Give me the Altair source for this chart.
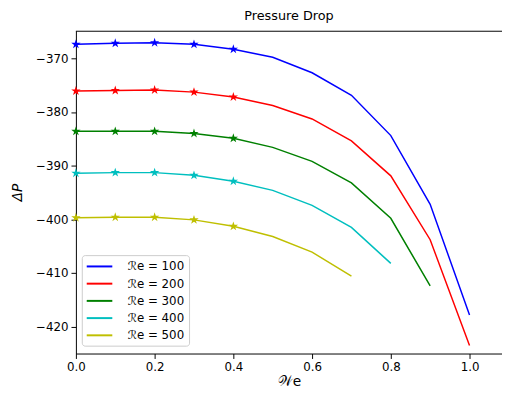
import altair as alt
import pandas as pd

we = [0.0, 0.1, 0.2, 0.3, 0.4, 0.5, 0.6, 0.7, 0.8, 0.9, 1.0]
re_values = [100, 200, 300, 400, 500]
dp_re100 = [-367.4, -367.2, -367.1, -367.4, -368.3, -369.8, -372.7, -376.9, -384.4, -397.2, -417.8]
dp_re200 = [-376.1, -376.0, -375.9, -376.3, -377.2, -378.8, -381.3, -385.4, -391.9, -403.8, -423.5]
dp_re300 = [-383.6, -383.6, -383.6, -384.0, -384.9, -386.6, -389.2, -393.2, -399.8, -412.4]
dp_re400 = [-391.4, -391.3, -391.3, -391.8, -392.9, -394.6, -397.4, -401.5, -408.2]
dp_re500 = [-399.7, -399.6, -399.6, -400.1, -401.3, -403.2, -406.1, -410.6]
colors = ["#0000ff", "#ff0000", "#008000", "#00bfbf", "#bfbf00"]
marker_max_we = 0.4

series = [dp_re100, dp_re200, dp_re300, dp_re400, dp_re500]
labels = [f"ℛe = {r}" for r in re_values]
rows = []
for lab, vals in zip(labels, series):
    for w, v in zip(we, vals):
        rows.append({"series": lab, "We": w, "dP": v, "marker": 1 if w <= marker_max_we + 1e-9 else 0})
df = pd.DataFrame(rows)

W, H = 433, 328
font = "DejaVu Sans"

STAR = ("M0,-1L0.2245,-0.309L0.951,-0.309L0.3633,0.118L0.5878,0.809L0,0.382"
        "L-0.5878,0.809L-0.3633,0.118L-0.951,-0.309L-0.2245,-0.309Z")
LEGEND_LINE = "M-2,0L2,0"

xscale = alt.Scale(domain=[0, 1.0825], nice=False, zero=False)
yscale = alt.Scale(domain=[-425.0, -364.87], nice=False, zero=False)
cscale = alt.Scale(domain=labels, range=colors)

x = alt.X("We:Q", scale=xscale,
          axis=alt.Axis(values=[0, 0.2, 0.4, 0.6, 0.8, 1.0], format=".1f", title="𝒲e",
                        grid=False, titleFontSize=14, titleFontWeight="normal",
                        titlePadding=2, labelFlush=False))
y = alt.Y("dP:Q", scale=yscale,
          axis=alt.Axis(values=[-370, -380, -390, -400, -410, -420], format="d", title="ΔP",
                        grid=False, labelExpr="replace(datum.label, '-', '−')",
                        titleFontSize=14, titleFontWeight="normal", titleFontStyle="italic",
                        titlePadding=11, labelFlush=False))
color = alt.Color("series:N", scale=cscale,
                  legend=alt.Legend(title=None, orient="none", legendX=6, legendY=228,
                                    symbolType=LEGEND_LINE, symbolSize=169, symbolStrokeWidth=2,
                                    symbolOffset=6.5, labelOffset=21,
                                    labelFontSize=12, labelFont=font, rowPadding=3.5,
                                    padding=4,
                                    strokeColor="#cccccc", fillColor="#ffffff",
                                    cornerRadius=3))

lines = alt.Chart(df).mark_line(strokeWidth=1.5).encode(x=x, y=y, color=color)
points = alt.Chart(df).transform_filter("datum.marker == 1").mark_point(
    shape=STAR, filled=True, size=100, opacity=1).encode(
    x="We:Q", y="dP:Q", color=alt.Color("series:N", scale=cscale, legend=None))
top = alt.Chart(pd.DataFrame({"spine": ["top"]})).mark_rule(color="#000000", strokeWidth=1).encode(
    x=alt.value(0), x2=alt.value(W), y=alt.value(0.5))

chart = alt.layer(lines, points, top).properties(
    width=W, height=H,
    title=alt.TitleParams("Pressure Drop", fontSize=13, font=font, fontWeight="normal", offset=8),
    autosize=alt.AutoSizeParams(type="none"),
    padding={"left": 69, "top": 20, "right": 0, "bottom": 38},
).configure_view(stroke=None).configure_axis(
    labelFont=font, titleFont=font, labelFontSize=12, labelColor="#000000", titleColor="#000000",
    domainColor="#000000", tickColor="#000000", tickSize=5, labelPadding=3, domainWidth=1,
).configure_title(color="#000000")

chart.save("out.html", embed_options={"renderer": "svg", "actions": False})
